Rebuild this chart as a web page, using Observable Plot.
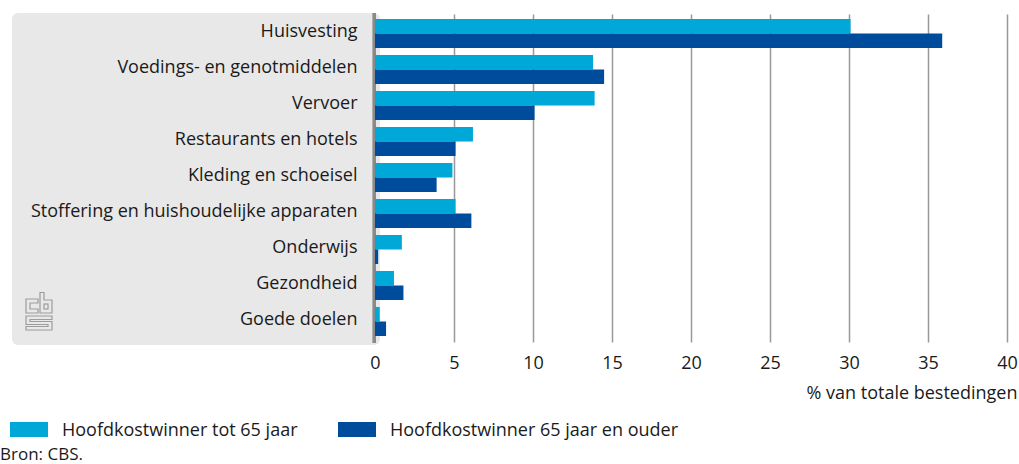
<!DOCTYPE html>
<html>
<head>
<meta charset="utf-8">
<script src="https://cdn.jsdelivr.net/npm/d3@7"></script>
<script src="https://cdn.jsdelivr.net/npm/@observablehq/plot@0.6"></script>
<style>
  html, body { margin: 0; padding: 0; background: #fff; overflow: hidden; }
  body { width: 1019px; font-family: "Open Sans", sans-serif; color: #1a1a1a; }
  #chart svg { display: block; }
  .legend { display: flex; align-items: center; height: 20px; margin-top: 9px; padding-left: 10px; font-size: 18px; }
  .item { display: flex; align-items: center; }
  .item:first-child { width: 328px; }
  .sw { width: 38px; height: 15px; margin-right: 14px; }
  .source { font-size: 17px; margin-top: 6px; line-height: 18px; }
</style>
</head>
<body>
<div id="chart"></div>
<div class="legend">
  <div class="item"><div class="sw" style="background:#00a8d8"></div><span>Hoofdkostwinner tot 65 jaar</span></div>
  <div class="item"><div class="sw" style="background:#004c9c"></div><span>Hoofdkostwinner 65 jaar en ouder</span></div>
</div>
<div class="source">Bron: CBS.</div>
<script>
const categories = [
  "Huisvesting",
  "Voedings- en genotmiddelen",
  "Vervoer",
  "Restaurants en hotels",
  "Kleding en schoeisel",
  "Stoffering en huishoudelijke apparaten",
  "Onderwijs",
  "Gezondheid",
  "Goede doelen"
];
const tot65 = [30.1, 13.8, 13.9, 6.2, 4.9, 5.1, 1.7, 1.2, 0.3];
const ouder65 = [35.9, 14.5, 10.1, 5.1, 3.9, 6.1, 0.2, 1.8, 0.7];
const xTicks = [0, 5, 10, 15, 20, 25, 30, 35, 40];
const axisLabel = "% van totale bestedingen";

const dataTot = categories.map((c, i) => ({cat: c, value: tot65[i]}));
const dataOud = categories.map((c, i) => ({cat: c, value: ouder65[i]}));

const svgH = 410, mTop = 14.4, plotBottom = 340.6;
const half = 36.25 * 0.8 / 2;

const chart = Plot.plot({
  width: 1019,
  height: svgH,
  marginLeft: 375,
  marginRight: 12,
  marginTop: mTop,
  marginBottom: svgH - plotBottom,
  style: {fontFamily: "Open Sans, sans-serif", fontSize: "18px", color: "#1a1a1a", background: "transparent"},
  x: {domain: [0, 40], ticks: xTicks, label: null},
  y: {domain: categories, paddingInner: 0.2, paddingOuter: 0.1, label: null},
  marks: [
    Plot.gridX(xTicks.filter(d => d > 0), {stroke: "#999", strokeOpacity: 1, strokeWidth: 1.5, insetBottom: -2}),
    Plot.ruleX([0], {stroke: "#8a8a8a", strokeWidth: 3.6, dx: -1.3, insetTop: -1.5, insetBottom: -2.5}),
    Plot.barX(dataTot, {x: "value", y: "cat", fill: "#00a8d8", insetBottom: half}),
    Plot.barX(dataOud, {x: "value", y: "cat", fill: "#004c9c", insetTop: half}),
    Plot.axisY({tickSize: 0, tickPadding: 18, dy: -3, label: null, fill: "#1a1a1a"}),
    Plot.axisX({ticks: xTicks, tickSize: 0, tickPadding: 15, label: null, fill: "#1a1a1a"}),
    Plot.text([axisLabel], {frameAnchor: "bottom-right", textAnchor: "end", dx: 10, dy: 58, fill: "#1a1a1a"})
  ]
});

// decorative grey label panel and logo
const svg = d3.select(chart);
const g = svg.insert("g", ":first-child");
g.append("rect")
  .attr("x", 12).attr("y", 13).attr("width", 368).attr("height", 332)
  .attr("rx", 6).attr("fill", "#e8e8e8");
g.append("rect")
  .attr("x", 360).attr("y", 13).attr("width", 14).attr("height", 332)
  .attr("fill", "#e8e8e8");
const logo = g.append("g").attr("fill", "none").attr("stroke", "#9c9c9c").attr("stroke-width", 1.2);
logo.append("polygon").attr("points", "26,299 38,299 38,303 30,303 30,309 38,309 38,313 26,313");
logo.append("polygon").attr("points", "40,292.5 44,292.5 44,300 52,300 52,313 40,313");
logo.append("rect").attr("x", 44).attr("y", 304).attr("width", 4).attr("height", 5);
logo.append("polygon").attr("points", "26,316 52,316 52,319.5 30,319.5 30,321.5 52,321.5 52,330 26,330 26,326.5 48,326.5 48,324.5 26,324.5");

document.getElementById("chart").appendChild(chart);
</script>
</body>
</html>
